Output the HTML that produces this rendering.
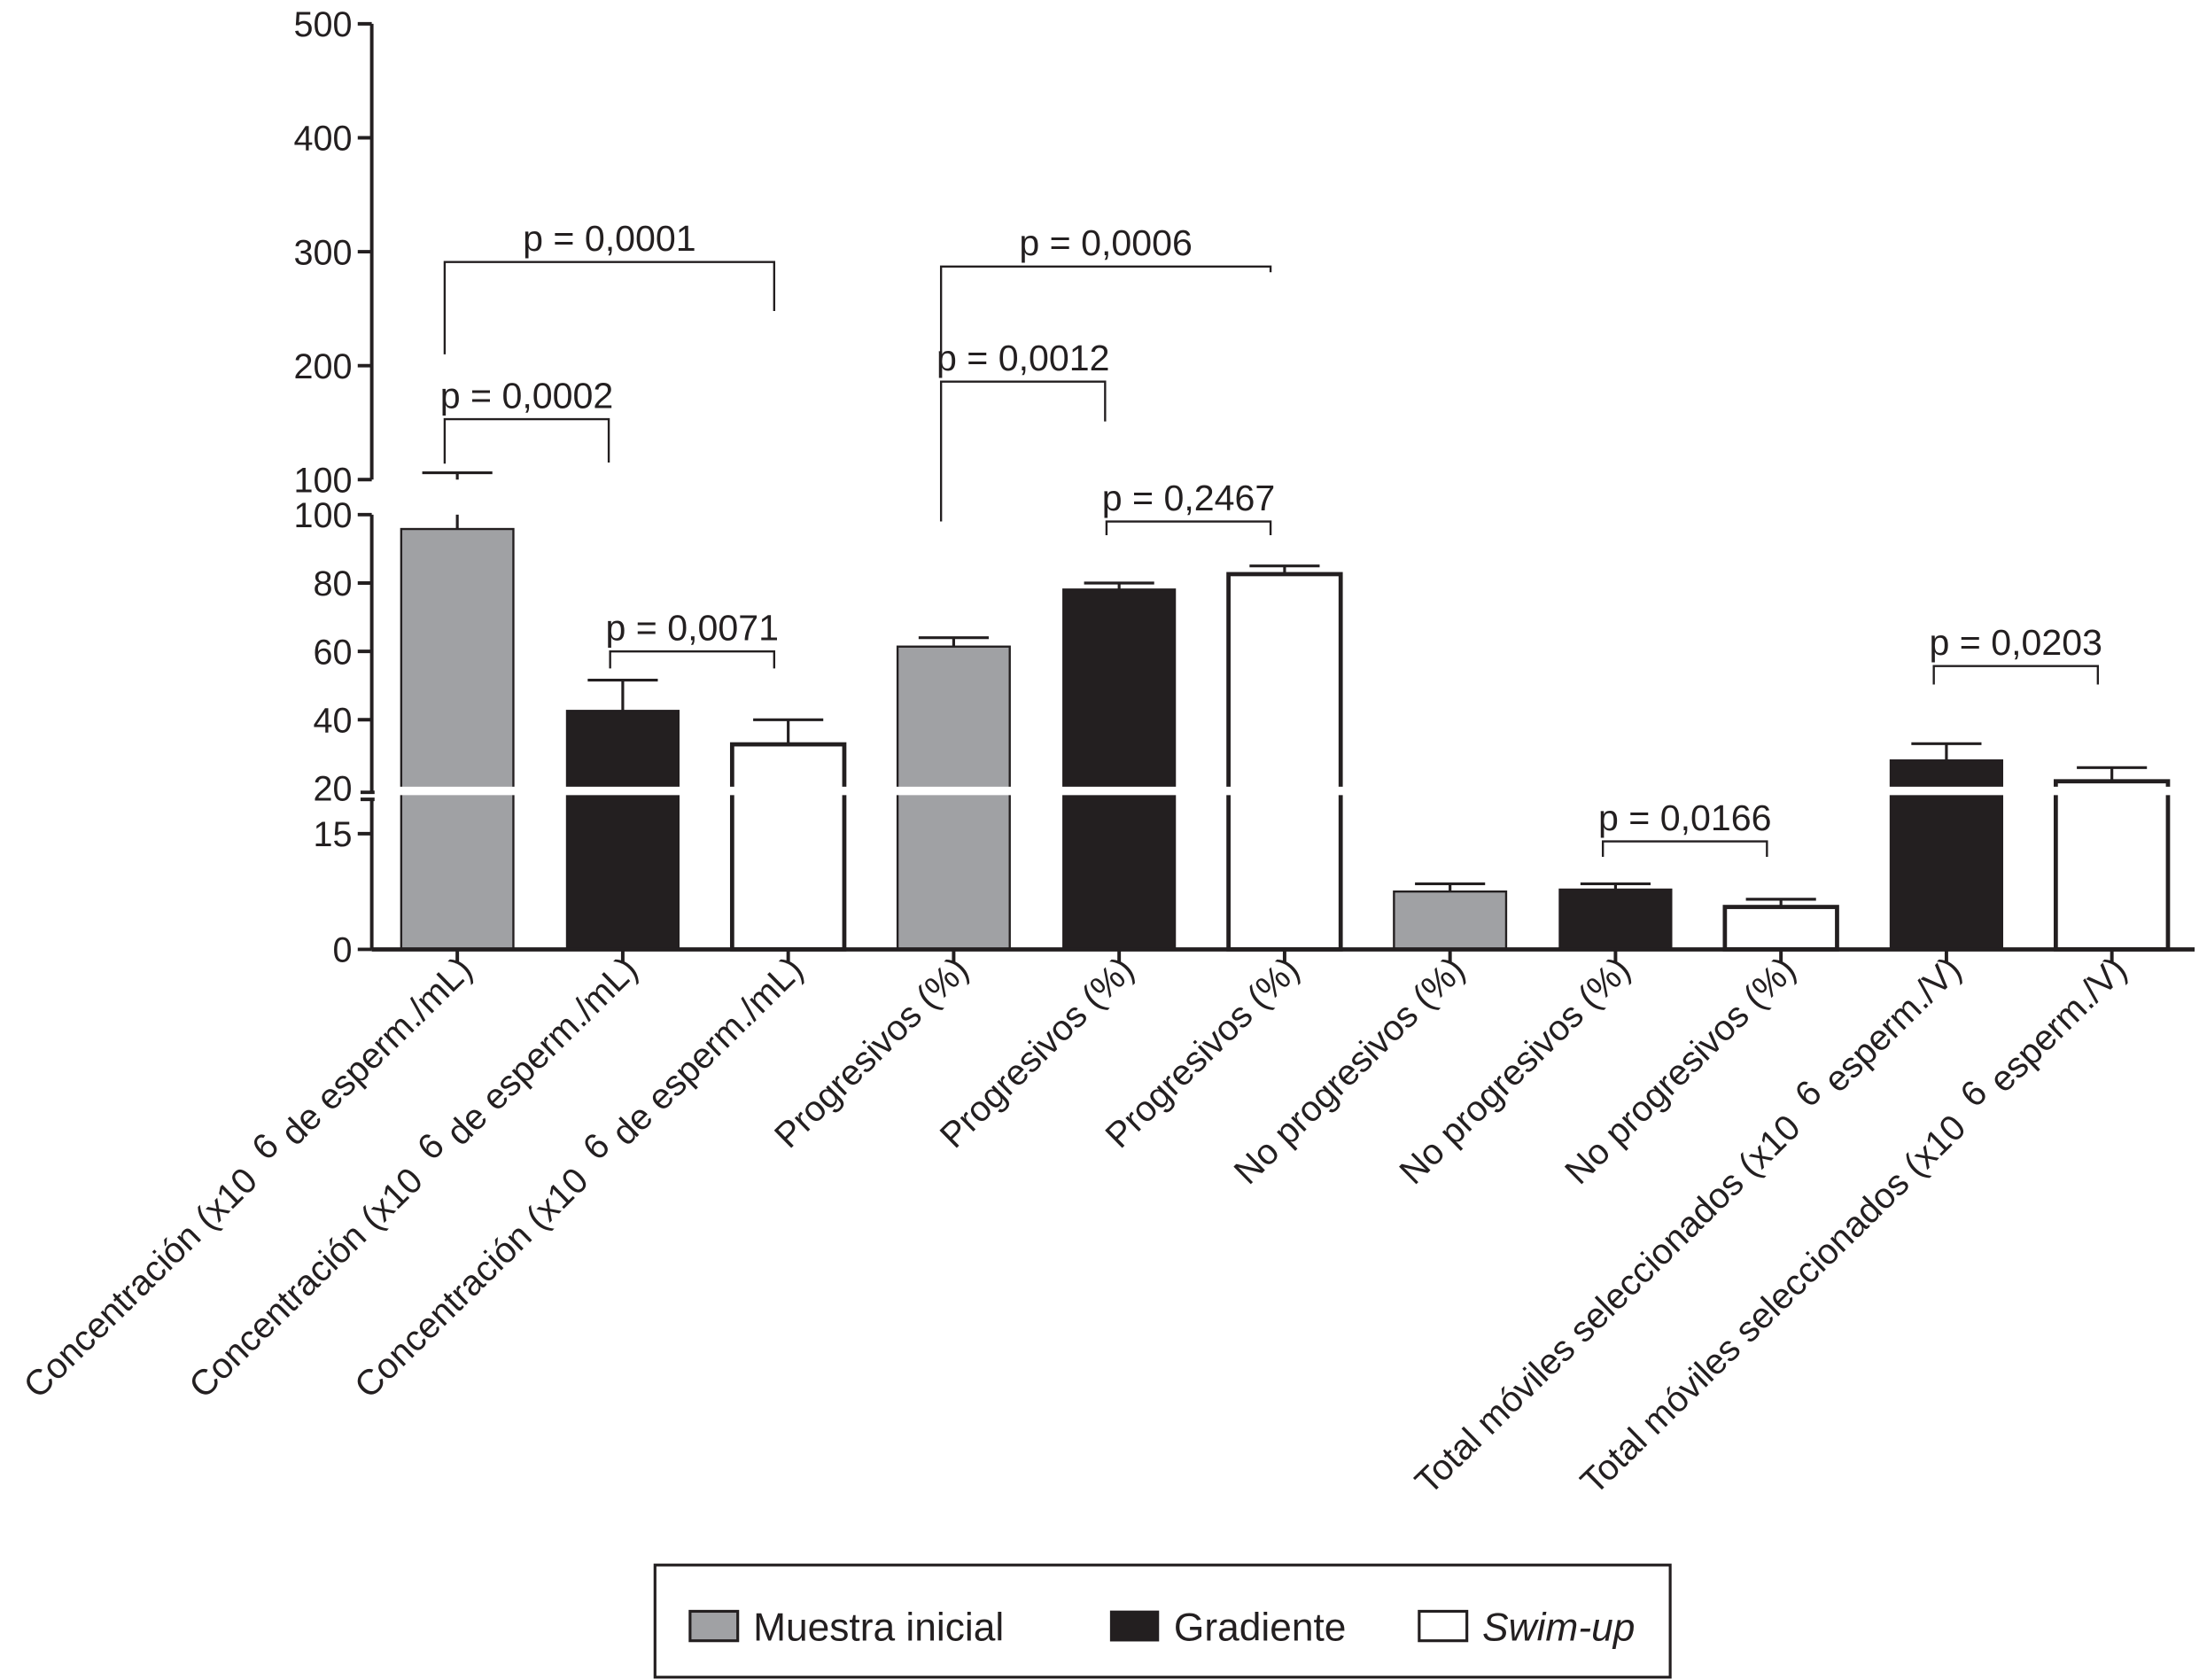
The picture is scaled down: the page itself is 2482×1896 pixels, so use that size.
<!DOCTYPE html>
<html><head><meta charset="utf-8"><style>
html,body{margin:0;padding:0;background:#fff;}
svg{display:block;font-family:"Liberation Sans",sans-serif;}
</style></head><body>
<svg id="chart" width="2482" height="1896" viewBox="0 0 1568 1198" xmlns="http://www.w3.org/2000/svg">
<g id="root"></g>
</svg>
<script>
const categories = ["Concentración (x10|6|de esperm./mL)","Concentración (x10|6|de esperm./mL)","Concentración (x10|6|de esperm./mL)","Progresivos (%)","Progresivos (%)","Progresivos (%)","No progresivos (%)","No progresivos (%)","No progresivos (%)","Total móviles seleccionados (x10|6|esperm./V)","Total móviles seleccionados (x10|6|esperm./V)"];
const groups = ["inicial","gradiente","swim","inicial","gradiente","swim","inicial","gradiente","swim","gradiente","swim"];
const values = [95.8, 42.7, 32.8, 61.4, 78.2, 82.6, 7.5, 7.8, 5.5, 28.2, 22];
const errors = [106, 51.6, 40, 64, 80, 85, 8.5, 8.5, 6.5, 33, 26];
const upperTicks = [100, 200, 300, 400, 500];
const middleTicks = [20, 40, 60, 80, 100];
const lowerTicks = [0, 15];
const pLabels = ["p = 0,0001","p = 0,0002","p = 0,0071","p = 0,0006","p = 0,0012","p = 0,2467","p = 0,0166","p = 0,0203"];
const pFrom = [0,0,1,3,3,4,7,9];
const pTo = [2,1,2,5,4,5,8,10];
const pLevel = [291, 153, 60, 287, 186, 98, 14, 55.7];
const pLeftEnd = [210, 114, 55, 210, 98, 94, 12, 50.3];
const pRightEnd = [248, 115, 55, 282, 151, 94, 12, 50.3];

const NS = "http://www.w3.org/2000/svg";
const root = document.getElementById("root");
function el(tag, attrs, parent){const e=document.createElementNS(NS,tag);for(const k in attrs)e.setAttribute(k,attrs[k]);(parent||root).appendChild(e);return e;}

const X0 = 265, X1 = 1565, Y0 = 677;
function xPos(i){return 326 + i*118;}
function yPos(v, seg){
  if(seg==="upper") return 342 - (v-100)*(325/400);
  if(seg==="lower") return 677 - v*(110/20);
  return 562 - (v-20)*(195/80);
}
function ySmart(v){ if(v<=20) return yPos(v,"lower"); if(v<=100) return yPos(v,"middle"); return yPos(v,"upper"); }
const fills = {inicial:"#a0a1a4", gradiente:"#231f20", swim:"#ffffff"};
const BW = 80;

values.forEach((v,i)=>{
  const g = el("g",{});
  
  
  const x = xPos(i)-BW/2, fill = fills[groups[i]];
  const sw = groups[i]==="swim"?3:(groups[i]==="inicial"?1.5:1);
  const ytop = ySmart(v), yerr = ySmart(errors[i]);
  if(errors[i] > 100){
    el("line",{x1:xPos(i),x2:xPos(i),y1:ytop,y2:367,stroke:"#231f20","stroke-width":2},g);
    el("line",{x1:xPos(i),x2:xPos(i),y1:342,y2:yerr,stroke:"#231f20","stroke-width":2},g);
  } else {
    el("line",{x1:xPos(i),x2:xPos(i),y1:ytop,y2:yerr,stroke:"#231f20","stroke-width":2},g);
  }
  el("line",{x1:xPos(i)-25,x2:xPos(i)+25,y1:yerr,y2:yerr,stroke:"#231f20","stroke-width":2},g);
  el("rect",{x:x,y:ytop,width:BW,height:Y0-ytop,fill:fill,stroke:"#231f20","stroke-width":sw},g);
  if(v>20){ el("rect",{x:x-3,y:561,width:BW+6,height:6,fill:"#fff"},g); }
});

const ax = el("g",{stroke:"#231f20","stroke-width":2.5,fill:"none"});


el("line",{x1:X0,x2:X0,y1:17,y2:342},ax);
el("line",{x1:X0,x2:X0,y1:367,y2:564},ax);
el("line",{x1:X0,x2:X0,y1:570,y2:Y0},ax);
el("line",{x1:X0-8,x2:X0+2,y1:565,y2:565},ax);
el("line",{x1:X0-8,x2:X0+2,y1:570,y2:570},ax);
const xa = el("line",{x1:X0,x2:X1,y1:Y0,y2:Y0,stroke:"#231f20","stroke-width":3});


function yTick(v,seg){
  const y=yPos(v,seg);
  el("line",{x1:X0-10,x2:X0,y1:y,y2:y,stroke:"#231f20","stroke-width":2.5});
  const t=el("text",{x:X0-14,y:y+9,"text-anchor":"end","font-size":25,fill:"#231f20"});
  
  
  t.textContent=v;
}
upperTicks.forEach(v=>yTick(v,"upper"));
middleTicks.forEach(v=>{ if(v!==20) yTick(v,"middle"); });
(function(){const t=el("text",{x:X0-14,y:571,"text-anchor":"end","font-size":25,fill:"#231f20"});t.textContent="20";})();
lowerTicks.forEach(v=>yTick(v,"lower"));

categories.forEach((c,i)=>{
  const x=xPos(i);
  el("line",{x1:x,x2:x,y1:Y0,y2:Y0+10,stroke:"#231f20","stroke-width":2.5});
  const t=el("text",{transform:`translate(${x+12},${Y0+16}) rotate(-44.5)`,"text-anchor":"end","font-size":25.5,fill:"#231f20"});
  
  
  const parts=c.split("|");
  if(parts.length===3){
    const a=el("tspan",{},t);a.textContent=parts[0];
    const b=el("tspan",{dx:14,dy:-7},t);b.textContent=parts[1];
    const d=el("tspan",{dx:8,dy:7},t);d.textContent=parts[2];
  } else t.textContent=c;
});

pLabels.forEach((p,k)=>{
  const g=el("g",{});
  
  
  const xa=xPos(pFrom[k])-9, xb=xPos(pTo[k])-10;
  const y=ySmart(pLevel[k]);
  const yl=ySmart(pLeftEnd[k]), yr=ySmart(pRightEnd[k]);
  el("polyline",{points:`${xa},${yl} ${xa},${y} ${xb},${y} ${xb},${yr}`,fill:"none",stroke:"#231f20","stroke-width":1.5},g);
  const t=el("text",{x:(xa+xb)/2,y:y-8,"text-anchor":"middle","font-size":26,fill:"#231f20"},g);
  t.textContent=p;
});

const lg=el("g",{});


el("rect",{x:467,y:1116,width:724,height:80,fill:"#fff",stroke:"#231f20","stroke-width":2},lg);
const items=[["Muestra inicial","inicial",492,false],["Gradiente","gradiente",792,false],["Swim-up","swim",1012,true]];
items.forEach(it=>{
  const e=el("g",{},lg);
  
  
  el("rect",{x:it[2],y:1149,width:34,height:21,fill:fills[it[1]],stroke:"#231f20","stroke-width":it[1]==="gradiente"?1:2},e);
  const t=el("text",{x:it[2]+45,y:1170,"font-size":28,fill:"#231f20","font-style":it[3]?"italic":"normal"},e);
  t.textContent=it[0];
});
</script>
</body></html>
